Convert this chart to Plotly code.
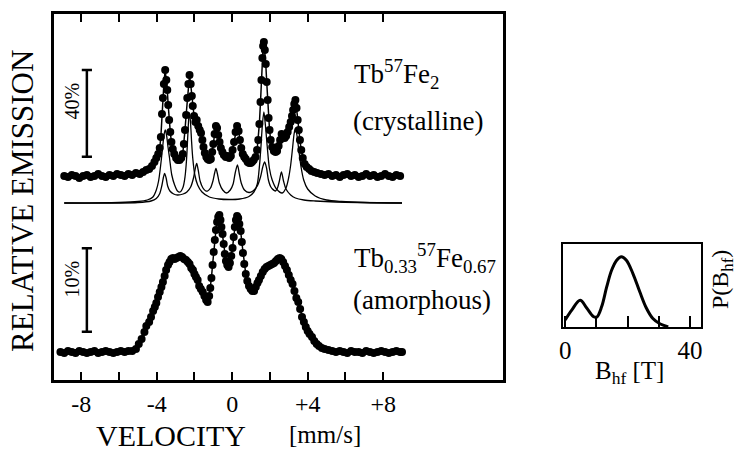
import plotly.graph_objects as go

# ---------------- data ----------------
# Crystalline Tb57Fe2 : velocity [mm/s] and relative emission (arb. units)
cryst_v = [-8.9, -8.7, -8.5, -8.3, -8.1, -7.9, -7.7, -7.5, -7.3, -7.1, -6.9, -6.7, -6.5, -6.3, -6.1,
           -5.9, -5.7, -5.5, -5.3, -5.1, -4.9, -4.72, -4.55, -4.4, -4.25, -4.12, -4.02, -3.92, -3.84,
           -3.78, -3.72, -3.67, -3.62, -3.55, -3.49, -3.44, -3.39, -3.34, -3.28, -3.22, -3.15, -3.07,
           -2.97, -2.88, -2.79, -2.70, -2.62, -2.56, -2.50, -2.44, -2.38, -2.32, -2.26, -2.20, -2.14,
           -2.09, -2.02, -1.95, -1.88, -1.80, -1.72, -1.65, -1.58, -1.52, -1.45, -1.37, -1.30, -1.22,
           -1.13, -1.06, -1.00, -0.93, -0.86, -0.80, -0.74, -0.67, -0.60, -0.52, -0.44, -0.34, -0.25,
           -0.16, -0.07, 0.02, 0.10, 0.18, 0.26, 0.34, 0.41, 0.48, 0.56, 0.64, 0.72, 0.82, 0.90, 0.98,
           1.06, 1.14, 1.24, 1.32, 1.38, 1.44, 1.50, 1.55, 1.60, 1.64, 1.68, 1.73, 1.78, 1.83, 1.88,
           1.93, 1.98, 2.04, 2.12, 2.21, 2.30, 2.38, 2.46, 2.54, 2.62, 2.70, 2.78, 2.86, 2.94, 3.02,
           3.10, 3.17, 3.23, 3.29, 3.35, 3.41, 3.47, 3.53, 3.59, 3.66, 3.74, 3.84, 3.95, 4.08, 4.20,
           4.35, 4.50, 4.70, 4.90, 5.10, 5.30, 5.50, 5.70, 5.90, 6.10, 6.30, 6.50, 6.70, 6.90, 7.10,
           7.30, 7.50, 7.70, 7.90, 8.10, 8.30, 8.50, 8.70, 8.90]
cryst_e = [204, 203, 205, 204, 202, 204, 205, 203, 204, 206, 204, 203, 205, 204, 206,
           205, 204, 206, 205, 207, 206, 208, 210, 211, 214, 218, 222, 226, 232,
           243, 266, 282, 296, 310, 300, 290, 275, 260, 248, 238, 231, 226,
           222, 220, 220, 222, 226, 236, 250, 265, 282, 296, 305, 296, 284,
           274, 264, 258, 260, 254, 250, 247, 240, 233, 227, 223, 221, 220,
           221, 228, 236, 246, 254, 252, 245, 238, 232, 228, 225, 223, 224,
           222, 224, 230, 238, 248, 254, 249, 240, 232, 226, 223, 221, 218, 217, 217,
           218, 220, 223, 230, 240, 256, 278, 300, 322, 334, 338, 330, 316, 298, 280,
           262, 250, 240, 233, 229, 228, 229, 234, 240, 246, 245, 242, 244, 248, 253,
           258, 264, 270, 276, 280, 272, 260, 250, 240, 230, 222, 216, 213, 211, 209,
           208, 207, 206, 205, 206, 204, 205, 203, 205, 206, 204, 205, 203, 204, 206,
           204, 205, 203, 204, 206, 204, 203, 205, 204]

# Sub-spectrum A (strong sextet component)
subA_v = [-8.9, -6.0, -5.0, -4.5, -4.2, -4.02, -3.9, -3.8, -3.7, -3.62, -3.55, -3.48, -3.4, -3.32,
          -3.2, -3.05, -2.9, -2.76, -2.6, -2.5, -2.42, -2.35, -2.3, -2.26, -2.21, -2.15, -2.09,
          -1.98, -1.83, -1.6, -1.21, -0.7, -0.16, 0.4, 0.89, 1.15, 1.33, 1.45, 1.52, 1.6, 1.68,
          1.76, 1.86, 1.97, 2.12, 2.35, 2.65, 2.85, 3.0, 3.1, 3.2, 3.28, 3.35, 3.43, 3.53, 3.65,
          3.79, 4.0, 4.4, 5.0, 5.8, 7.0, 9.0]
subA_e = [177, 177.5, 178.5, 180, 183, 190, 199, 213, 230, 244, 250, 245, 233, 222,
          205, 195, 189, 188, 193, 203, 220, 245, 262, 267, 258, 238, 222,
          205, 195, 188, 183, 181, 180.5, 181, 183.5, 188, 196, 215, 232, 255, 268,
          255, 233, 212, 200, 191, 187, 192, 203, 215, 232, 246, 252, 245, 230, 213,
          200, 191, 184, 180, 178.5, 177.5, 177]

# Sub-spectrum B (weak sextet component)
subB_v = [-8.9, -5.0, -4.3, -4.02, -3.85, -3.72, -3.64, -3.58, -3.5, -3.42, -3.3, -3.1, -2.9,
          -2.6, -2.4, -2.2, -2.05, -1.95, -1.88, -1.8, -1.7, -1.55, -1.4, -1.3, -1.15, -1.02,
          -0.93, -0.86, -0.78, -0.68, -0.5, -0.3, -0.1, 0.05, 0.16, 0.28, 0.38, 0.48, 0.65, 0.89,
          1.1, 1.33, 1.5, 1.62, 1.72, 1.82, 1.92, 2.05, 2.29, 2.4, 2.5, 2.61, 2.72, 2.85, 3.1,
          3.35, 3.8, 4.4, 5.5, 9.0]
subB_e = [177, 177.5, 179, 181.5, 186, 195, 203, 206.5, 202, 194, 189, 186, 185,
          186, 188, 193, 202, 212, 216.5, 210, 199, 192, 189, 189, 192, 199,
          207, 211.5, 206, 197, 190, 187, 190, 196, 207, 215, 206, 197, 190, 187.5,
          189, 194, 203, 213, 218, 212, 200, 193, 189, 192, 199, 208, 199, 191, 185,
          182, 180, 179, 178, 177]

# Amorphous Tb0.33 57Fe0.67
amor_v = [-9.1, -8.9, -8.7, -8.5, -8.3, -8.1, -7.9, -7.7, -7.5, -7.3, -7.1, -6.9, -6.7, -6.5,
          -6.3, -6.1, -5.9, -5.7, -5.5, -5.3, -5.1, -4.95, -4.8, -4.65, -4.55, -4.4, -4.3, -4.19,
          -4.1, -4.02, -3.93, -3.84, -3.75, -3.67, -3.58, -3.5, -3.4, -3.32, -3.23, -3.14, -3.05,
          -2.95, -2.85, -2.75, -2.65, -2.55, -2.45, -2.35, -2.26, -2.17, -2.08, -2.0, -1.92, -1.83,
          -1.75, -1.66, -1.56, -1.47, -1.38, -1.30, -1.22, -1.16, -1.10, -1.04, -0.98, -0.92, -0.86,
          -0.80, -0.74, -0.68, -0.62, -0.57, -0.51, -0.45, -0.39, -0.33, -0.26, -0.19, -0.12, -0.05,
          0.02, 0.08, 0.14, 0.20, 0.26, 0.32, 0.38, 0.45, 0.51, 0.57, 0.64, 0.72, 0.80, 0.89, 0.98,
          1.07, 1.16, 1.25, 1.34, 1.42, 1.52, 1.62, 1.72, 1.82, 1.92, 2.02, 2.12, 2.22, 2.32, 2.42,
          2.52, 2.60, 2.70, 2.80, 2.90, 3.0, 3.1, 3.2, 3.3, 3.4, 3.5, 3.6, 3.7, 3.8, 3.9, 4.0, 4.1,
          4.23, 4.35, 4.48, 4.6, 4.75, 4.9, 5.1, 5.3, 5.5, 5.7, 5.9, 6.1, 6.3, 6.5, 6.7, 6.9, 7.1,
          7.3, 7.5, 7.7, 7.9, 8.1, 8.3, 8.5, 8.7, 8.9, 9.0]
amor_e = [28, 27, 29, 28, 27, 29, 28, 27, 28, 29, 27, 28, 29, 28,
          27, 28, 29, 28, 29, 29, 31, 36, 41, 48, 54, 58, 63, 69,
          73, 77, 83, 88, 93, 98, 104, 110, 115, 118, 121, 122, 121,
          122, 123, 124, 123, 121, 120, 118, 116, 112, 110, 106, 103, 100,
          94, 91, 88, 84, 80, 78, 84, 92, 102, 115, 128, 140, 150,
          158, 163, 165, 160, 153, 146, 136, 126, 119, 115, 113, 117, 124,
          132, 143, 153, 160, 164, 162, 156, 149, 138, 127, 116, 106, 99, 94, 91,
          89, 89, 93, 97, 100, 104, 108, 111, 113, 114, 115, 116, 117, 119, 121,
          122, 121, 118, 114, 110, 105, 100, 96, 89, 82, 78, 71, 63, 58, 53, 49, 46,
          43, 39, 36, 34, 32, 31, 30, 29, 28, 29, 28, 27, 29, 28, 28, 27, 29,
          28, 27, 28, 29, 28, 27, 28, 29, 28, 28]

# Hyperfine field distribution (inset)
bhf = [0, 2.1, 4.8, 6.9, 9.0, 10.1, 11.7, 13.3, 14.9, 16.5, 18.0, 19.6, 21.7, 23.9, 26.0, 28.1,
       30.2, 31.8, 33.0]
pbhf = [0.10, 0.24, 0.38, 0.27, 0.15, 0.14, 0.29, 0.57, 0.81, 0.95, 1.0, 0.95, 0.76, 0.50, 0.27,
        0.12, 0.05, 0.02, 0.0]

vel_labels = [-8, -4, 0, 4, 8]
vel_labeltext = ["-8", "-4", "0", "+4", "+8"]
vel_minor = [-6, -2, 2, 6]
b_labels = [0, 40]
b_labeltext = ["0", "40"]
b_minor = [10, 20, 30]

# ---------------- figure ----------------
W, H = 739, 454
FONT = "Liberation Serif"

def px(x):
    return x / W

def py(y):
    return 1 - y / H

fig = go.Figure()

# sub spectra (thin)
for v, e in [(subA_v, subA_e), (subB_v, subB_e)]:
    fig.add_trace(go.Scatter(x=v, y=e, mode="lines",
                             line=dict(color="black", width=1.3, shape="spline", smoothing=0.8),
                             hoverinfo="skip", showlegend=False))

# data spectra
for v, e in [(cryst_v, cryst_e), (amor_v, amor_e)]:
    fig.add_trace(go.Scatter(x=v, y=e, mode="lines+markers",
                             line=dict(color="black", width=1.5),
                             marker=dict(color="black", size=8),
                             showlegend=False))

# inset
fig.add_trace(go.Scatter(x=bhf, y=pbhf, mode="lines", xaxis="x2", yaxis="y2",
                         line=dict(color="black", width=3, shape="spline", smoothing=1.0),
                         showlegend=False))

fig.update_layout(
    width=W, height=H,
    margin=dict(l=0, r=0, t=0, b=0),
    paper_bgcolor="white", plot_bgcolor="white",
    font=dict(family=FONT, color="black"),
    xaxis=dict(domain=[px(50), px(502)], range=[-9.46, 14.33],
               showline=True, linewidth=2.5, linecolor="black", mirror="ticks",
               ticks="inside", ticklen=8, tickwidth=2, tickcolor="black",
               tickvals=vel_labels, ticktext=vel_labeltext,
               minor=dict(tickvals=vel_minor, ticks="inside", ticklen=8, tickwidth=2,
                          tickcolor="black", showgrid=False),
               tickfont=dict(size=24, family=FONT),
               showgrid=False, zeroline=False),
    yaxis=dict(domain=[py(380), py(14)], range=[0, 366],
               showline=True, linewidth=2.5, linecolor="black", mirror=True,
               ticks="", showticklabels=False, showgrid=False, zeroline=False),
    xaxis2=dict(domain=[px(563), px(702)], range=[-0.64, 43.6], anchor="y2",
                showline=True, linewidth=2, linecolor="black", mirror=True,
                ticks="inside", ticklen=11, tickwidth=2, tickcolor="black",
                tickvals=b_labels, ticktext=b_labeltext,
                minor=dict(tickvals=b_minor, ticks="inside", ticklen=11, tickwidth=2,
                           tickcolor="black", showgrid=False),
                tickfont=dict(size=25, family=FONT),
                showgrid=False, zeroline=False),
    yaxis2=dict(domain=[py(327), py(244)], range=[0, 1.18], anchor="x2",
                showline=True, linewidth=2, linecolor="black", mirror=True,
                ticks="", showticklabels=False, showgrid=False, zeroline=False),
)

# scale bars
bar_v = -7.7
cap = 0.27
for y0, y1 in [(223.3, 310), (48.3, 131.7)]:
    fig.add_shape(type="line", x0=bar_v, x1=bar_v, y0=y0, y1=y1, xref="x", yref="y",
                  line=dict(color="black", width=2.5))
    for yy in (y0, y1):
        fig.add_shape(type="line", x0=bar_v - cap, x1=bar_v + cap, y0=yy, y1=yy,
                      xref="x", yref="y", line=dict(color="black", width=2.5))

ann = [
    dict(text="Tb<sup>57</sup>Fe<sub>2</sub>", x=px(350), y=py(74), xanchor="left", yanchor="middle", size=27),
    dict(text="(crystalline)", x=px(349), y=py(121), xanchor="left", yanchor="middle", size=27),
    dict(text="Tb<sub>0.33</sub><sup>57</sup>Fe<sub>0.67</sub>", x=px(350), y=py(258), xanchor="left", yanchor="middle", size=27),
    dict(text="(amorphous)", x=px(349), y=py(300), xanchor="left", yanchor="middle", size=27),
    dict(text="40%", x=px(68), y=py(101), xanchor="center", yanchor="middle", size=20, angle=-90),
    dict(text="10%", x=px(68), y=py(279), xanchor="center", yanchor="middle", size=20, angle=-90),
    dict(text="RELATIVE EMISSION", x=px(18), y=py(201), xanchor="center", yanchor="middle", size=31, angle=-90),
    dict(text="VELOCITY", x=px(168), y=py(435), xanchor="center", yanchor="middle", size=30),
    dict(text="[mm/s]", x=px(323), y=py(434), xanchor="center", yanchor="middle", size=25),
    dict(text="B<sub>hf</sub> [T]", x=px(630), y=py(372), xanchor="center", yanchor="middle", size=25),
    dict(text="P(B<sub>hf</sub>)", x=px(723), y=py(280), xanchor="center", yanchor="middle", size=24, angle=-90),
]
for a in ann:
    fig.add_annotation(text=a["text"], x=a["x"], y=a["y"], xref="paper", yref="paper",
                       xanchor=a["xanchor"], yanchor=a["yanchor"], showarrow=False,
                       textangle=a.get("angle", 0),
                       font=dict(size=a["size"], family=FONT, color="black"))

fig.write_html("out.html")
